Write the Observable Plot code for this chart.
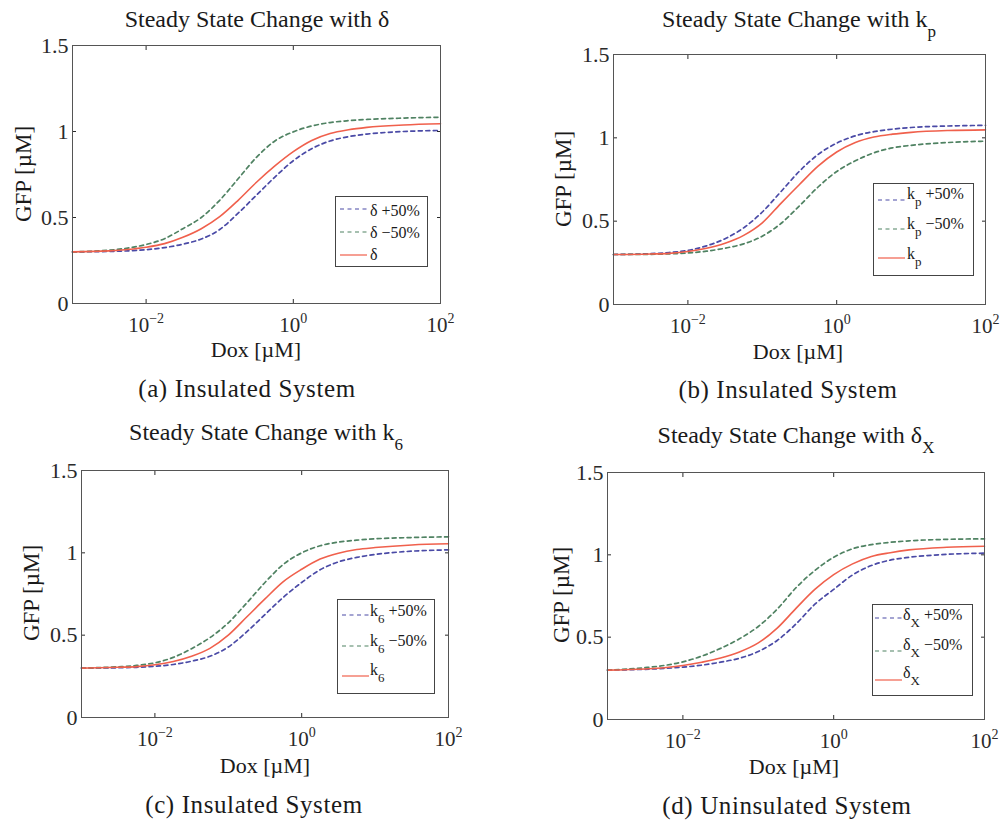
<!DOCTYPE html>
<html><head><meta charset="utf-8">
<script src="https://cdn.jsdelivr.net/npm/d3@7"></script>
<script src="https://cdn.jsdelivr.net/npm/@observablehq/plot@0.6"></script>
<style>
html,body{margin:0;padding:0;background:#fff;}
#root{position:relative;width:1003px;height:822px;overflow:hidden;background:#fff;}
.panel{position:absolute;}
#overlay{position:absolute;left:0;top:0;pointer-events:none;}
</style></head>
<body><div id="root"></div>
<script>
// ---------- data ----------
const dox = [0.001, 0.00316, 0.00562, 0.01, 0.0178, 0.0316, 0.0562, 0.1, 0.178,
             0.316, 0.562, 1, 1.78, 3.16, 5.62, 10, 31.6, 100];

// (a) delta
const aPlus  = [0.300, 0.303, 0.306, 0.313, 0.325, 0.345, 0.375, 0.430, 0.525, 0.630, 0.735, 0.830, 0.900, 0.945, 0.970, 0.985, 1.000, 1.006];
const aMinus = [0.300, 0.310, 0.322, 0.343, 0.377, 0.435, 0.500, 0.600, 0.725, 0.850, 0.945, 0.998, 1.032, 1.052, 1.063, 1.070, 1.078, 1.083];
const aNom   = [0.300, 0.306, 0.314, 0.327, 0.348, 0.385, 0.435, 0.505, 0.600, 0.705, 0.800, 0.883, 0.948, 0.988, 1.010, 1.024, 1.038, 1.045];
// (b) k_p
const bPlus  = [0.300, 0.305, 0.312, 0.325, 0.352, 0.395, 0.460, 0.555, 0.677, 0.800, 0.900, 0.968, 1.012, 1.037, 1.052, 1.062, 1.071, 1.075];
const bMinus = [0.300, 0.301, 0.304, 0.309, 0.320, 0.338, 0.364, 0.410, 0.486, 0.592, 0.705, 0.798, 0.862, 0.910, 0.940, 0.955, 0.972, 0.980];
const bNom   = [0.300, 0.303, 0.307, 0.318, 0.338, 0.368, 0.415, 0.490, 0.607, 0.720, 0.830, 0.915, 0.972, 1.005, 1.022, 1.033, 1.044, 1.048];
// (c) k_6
const cPlus  = [0.300, 0.302, 0.305, 0.311, 0.322, 0.342, 0.372, 0.428, 0.520, 0.625, 0.730, 0.820, 0.897, 0.945, 0.972, 0.990, 1.010, 1.018];
const cMinus = [0.300, 0.308, 0.316, 0.332, 0.365, 0.418, 0.485, 0.575, 0.695, 0.820, 0.930, 1.000, 1.043, 1.065, 1.077, 1.085, 1.093, 1.097];
const cNom   = [0.300, 0.305, 0.309, 0.320, 0.340, 0.372, 0.420, 0.500, 0.610, 0.720, 0.825, 0.900, 0.962, 0.998, 1.020, 1.032, 1.048, 1.055];
// (d) delta_X
const dPlus  = [0.300, 0.305, 0.310, 0.318, 0.330, 0.348, 0.372, 0.413, 0.480, 0.580, 0.700, 0.790, 0.878, 0.935, 0.968, 0.985, 1.003, 1.010];
const dMinus = [0.300, 0.315, 0.328, 0.350, 0.385, 0.432, 0.490, 0.565, 0.670, 0.800, 0.905, 0.985, 1.037, 1.062, 1.076, 1.085, 1.094, 1.097];
const dNom   = [0.300, 0.307, 0.314, 0.328, 0.348, 0.373, 0.410, 0.465, 0.555, 0.675, 0.790, 0.880, 0.945, 0.990, 1.013, 1.030, 1.046, 1.052];

const xTicks = [0.01, 1, 100];
const xTickExp = ["\u22122", "0", "2"];
const yTicks = [0, 0.5, 1, 1.5];
const yTickLabels = ["0", "0.5", "1", "1.5"];

const titleMain = "Steady State Change with ";
const symbols = [{s: "\u03b4", sub: ""}, {s: "k", sub: "p"}, {s: "k", sub: "6"}, {s: "\u03b4", sub: "X"}];
const captions = ["(a) Insulated System", "(b) Insulated System", "(c) Insulated System", "(d) Uninsulated System"];
const legendSuffix = [" +50%", " \u221250%", ""];
const xLabel = "Dox [\u00b5M]";
const yLabel = "GFP [\u00b5M]";

const colors = ["#4a4aa6", "#4f8262", "#f0604c"];

// ---------- layout ----------
const panels = [
  {series: [aPlus, aMinus, aNom], frame: [72, 440, 45, 303],
   title: [257, 27], xlab: [256, 357], ylab: [31, 174], cap: [247, 397],
   legend: {box: [335, 196, 427, 266], lx: [340, 367], tx: 370, ly: [209, 232, 255], ty: [216, 238, 260]}},
  {series: [bPlus, bMinus, bNom], frame: [613, 985, 54, 304],
   title: [799, 27], xlab: [798, 359], ylab: [571, 179], cap: [788, 398],
   legend: {box: [873, 183, 973, 275], lx: [878, 905], tx: 907, ly: [200, 229, 258], ty: [199, 229, 259]}},
  {series: [cPlus, cMinus, cNom], frame: [81, 448, 470, 717],
   title: [266, 440], xlab: [265, 773], ylab: [39, 593], cap: [254, 813],
   legend: {box: [337, 599, 434, 693], lx: [342, 369], tx: 370, ly: [615, 646, 676], ty: [616, 646, 675]}},
  {series: [dPlus, dMinus, dNom], frame: [607, 984, 472, 719],
   title: [796, 443], xlab: [794, 774], ylab: [569, 595], cap: [787, 814],
   legend: {box: [872, 604, 972, 695], lx: [875, 902], tx: 903, ly: [618, 651, 680], ty: [620, 650, 678]}}
];

const root = document.getElementById("root");
const FONT = '"Liberation Serif", "Times New Roman", serif';
const mL = 60, mR = 30, mT = 12, mB = 45;

panels.forEach((p) => {
  const [x0, x1, y0, y1] = p.frame;
  const width = x1 - x0 + mL + mR, height = y1 - y0 + mT + mB;
  const lineMarks = p.series.map((arr, k) => {
    const rows = dox.map((x, i) => ({x, y: arr[i]}));
    return Plot.line(rows, {
      x: "x", y: "y", stroke: colors[k],
      strokeWidth: k === 2 ? 1.6 : 1.7,
      strokeDasharray: k === 2 ? null : "4,3.5",
      curve: "monotone-x"
    });
  });
  const svg = Plot.plot({
    width, height, marginLeft: mL, marginRight: mR, marginTop: mT, marginBottom: mB,
    style: {fontFamily: FONT, fontSize: "21px", color: "#2a2a2a", background: "transparent", overflow: "visible"},
    x: {type: "log", domain: [1e-3, 1e2]},
    y: {domain: [0, 1.5]},
    marks: [
      Plot.axisX({anchor: "bottom", ticks: xTicks, tickSize: -4, tickPadding: 18,
                  tickFormat: (d) => "10^" + xTickExp[xTicks.indexOf(d)], label: null}),
      Plot.axisX({anchor: "top", ticks: xTicks, tickSize: -4, tickFormat: () => "", label: null}),
      Plot.axisY({anchor: "left", ticks: yTicks, tickSize: -4, tickPadding: 8,
                  fontSize: 22,
                  tickFormat: (d) => yTickLabels[yTicks.indexOf(d)], label: null}),
      Plot.axisY({anchor: "right", ticks: yTicks, tickSize: -4, tickFormat: () => "", label: null}),
      ...lineMarks,
      Plot.frame({stroke: "#555", strokeWidth: 1})
    ]
  });
  svg.querySelectorAll("text").forEach((t) => {
    const s = t.textContent;
    if (s.includes("^")) {
      const [b, e] = s.split("^");
      t.textContent = b;
      const ts = document.createElementNS("http://www.w3.org/2000/svg", "tspan");
      ts.setAttribute("dy", "-9");
      ts.setAttribute("font-size", "14");
      ts.textContent = e;
      t.appendChild(ts);
    }
  });
  const div = document.createElement("div");
  div.className = "panel";
  div.style.left = (x0 - mL) + "px";
  div.style.top = (y0 - mT) + "px";
  div.style.width = width + "px";
  div.style.height = height + "px";
  div.appendChild(svg);
  root.appendChild(div);
});

// ---------- overlay: titles, axis labels, captions, legends ----------
const ov = d3.create("svg").attr("id", "overlay").attr("width", 1003).attr("height", 822)
  .attr("font-family", FONT).attr("fill", "#1a1a1a");

panels.forEach((p, i) => {
  const sym = symbols[i];
  // title
  const t = ov.append("text").attr("x", p.title[0]).attr("y", p.title[1])
    .attr("text-anchor", "middle").attr("font-size", 24);
  t.append("tspan").text(titleMain + sym.s);
  if (sym.sub) t.append("tspan").attr("dy", 10).attr("font-size", 17).text(sym.sub);
  // x label
  ov.append("text").attr("x", p.xlab[0]).attr("y", p.xlab[1]).attr("text-anchor", "middle")
    .attr("font-size", 22).text(xLabel);
  // y label
  ov.append("text").attr("transform", `translate(${p.ylab[0]},${p.ylab[1]}) rotate(-90)`)
    .attr("text-anchor", "middle").attr("font-size", 23).text(yLabel);
  // caption
  ov.append("text").attr("x", p.cap[0]).attr("y", p.cap[1]).attr("text-anchor", "middle")
    .attr("font-size", 25).attr("letter-spacing", 0.6).text(captions[i]);
  // legend
  const L = p.legend;
  ov.append("rect").attr("x", L.box[0] + 0.5).attr("y", L.box[1] + 0.5)
    .attr("width", L.box[2] - L.box[0]).attr("height", L.box[3] - L.box[1])
    .attr("fill", "#fff").attr("stroke", "#444").attr("stroke-width", 1);
  [0, 1, 2].forEach((k) => {
    ov.append("line").attr("x1", L.lx[0]).attr("x2", L.lx[1]).attr("y1", L.ly[k]).attr("y2", L.ly[k])
      .attr("stroke", colors[k]).attr("stroke-width", 1.2)
      .attr("stroke-dasharray", k === 2 ? null : "4,3.5");
    const tx = ov.append("text").attr("x", L.tx).attr("y", L.ty[k]).attr("font-size", 16);
    tx.append("tspan").text(sym.s);
    if (sym.sub) {
      tx.append("tspan").attr("dy", 7).attr("font-size", 13).text(sym.sub);
      if (legendSuffix[k]) tx.append("tspan").attr("dy", -7).text(legendSuffix[k]);
    } else if (legendSuffix[k]) {
      tx.append("tspan").text(legendSuffix[k]);
    }
  });
});
root.appendChild(ov.node());
</script>
</body></html>
